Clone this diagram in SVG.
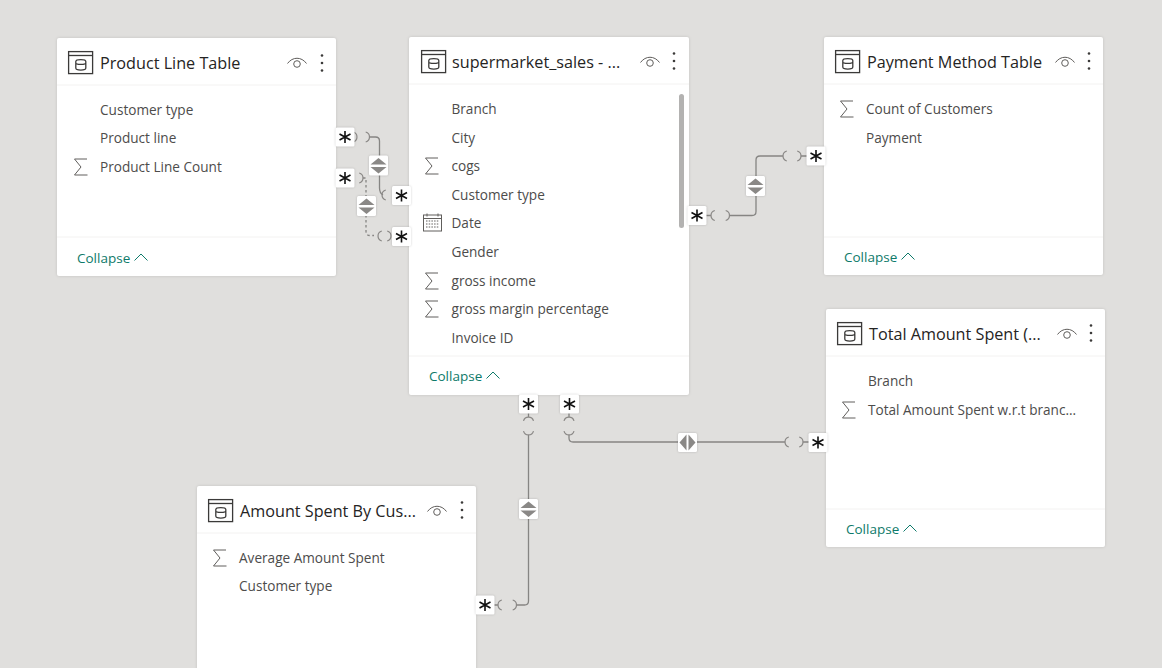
<svg xmlns="http://www.w3.org/2000/svg" width="1162" height="668" viewBox="0 0 1162 668">
<style>
text{font-family:"Open Sans","Noto Sans","Liberation Sans",sans-serif}
.t{font-size:16.2px;fill:#252423}
.f{font-size:13.6px;fill:#4d4c4b}
.c{font-size:13.5px;fill:#0e7a6a}
.card{fill:#fff;filter:drop-shadow(0 0 1.5px rgba(0,0,0,.13))}
.sep{stroke:#f3f2f1;stroke-width:1;fill:none}
.ic{fill:none;stroke:#3b3a39;stroke-width:1.3}
.sg{fill:none;stroke:#605e5c;stroke-width:1}
.ln{fill:none;stroke:#868583;stroke-width:1.3}
.d{stroke-dasharray:2.5 2.5}
.arc{fill:none;stroke:#8a8886;stroke-width:1.2}
.bd{fill:#fff;filter:drop-shadow(0 0 1px rgba(0,0,0,.18))}
.ar{fill:#8a8886}
.st{stroke:#111;stroke-width:1.6;fill:none}
</style>
<defs>
<g id="tbl"><rect x="0.6" y="0.6" width="24" height="22" class="ic"/><path d="M0.6 4.500H24.600" class="ic"/><path d="M7.800 10.500c0-2.400 10-2.400 10 0V17c0 2.800-10 2.800-10 0zM7.800 12c0 1.800 10 1.800 10 0" class="ic"/></g>
<g id="eye"><path d="M-9.500 1.500C-4.500 -5.500 4.500 -5.500 9.500 1.500" class="sg"/><circle cx="0" cy="2" r="3.300" class="sg"/></g>
<g id="dots" fill="#3b3a39"><circle cx="0" cy="-7.500" r="1.300"/><circle cx="0" cy="0" r="1.300"/><circle cx="0" cy="7.500" r="1.300"/></g>
<path id="sig" d="M-6.500 -8H6M-6.500 -8L0 0L-6.500 8H6.500" class="sg"/>
<g id="cal" class="sg"><rect x="-9" y="-8" width="18" height="16"/><path d="M-9 -4.500H9M-5.500 -9.500V-6.500M5.500 -9.500V-6.500"/><path d="M-6.500 -2H6.500M-6.500 1H6.500M-6.500 4H6.500" stroke-dasharray="1.500 1.200"/></g>
<g id="star"><rect x="-9.500" y="-9.500" width="19" height="19" rx="1.500" class="bd"/><path d="M0 -6V6M-5.500 -3L5.500 3M-5.500 3L5.500 -3" class="st"/></g>
<g id="updn"><rect x="-9.500" y="-10" width="19" height="20" rx="1.500" class="bd"/><path d="M0 -7.500L8 -1H-8ZM0 8L8 1.500H-8Z" class="ar"/></g>
<g id="lr"><rect x="-9.500" y="-9.500" width="19" height="19" rx="1.500" class="bd"/><path d="M-1 -8V8L-8 0ZM1 -8V8L8 0Z" class="ar"/></g>
<path id="chev" d="M-6.500 3.500L0 -3L6.500 3.500" fill="none" stroke="#0e7a6a" stroke-width="1"/>
<path id="lp" d="M3.800 -5A5.200 5.200 0 0 0 3.800 5"/>
<path id="rp" d="M-3.800 -5A5.200 5.200 0 0 1 -3.800 5"/>
<path id="tp" d="M-5 3.800A5.200 5.200 0 0 1 5 3.800"/>
<path id="bp" d="M-5 -3.800A5.200 5.200 0 0 0 5 -3.800"/>
</defs>
<rect width="1162" height="668" fill="#e0dfdd"/>

<g id="connectors">
<path class="ln" d="M369.500 137H375.500Q379.500 137 379.500 141V188Q379.500 193 383 195"/>
<path class="ln d" d="M363 178H366V231Q366 235.500 370 235.500H374"/>
<path class="ln" d="M706 215.500H711M729.500 215.500H752Q756 215.500 756 211.500V160Q756 156 760 156H783M801 156H807"/>
<path class="ln" d="M528.500 413V417M528.500 435V601Q528.500 605 524.500 605H516.500M498 605H494"/>
<path class="ln" d="M569 413V417M569 435V438Q569 442 573 442H785M803 442H809"/>
<g class="arc">
<use href="#rp" x="357" y="137"/><use href="#rp" x="369.500" y="137"/>
<use href="#lp" x="382" y="195"/>
<use href="#rp" x="363" y="178"/>
<use href="#lp" x="378" y="236"/><use href="#rp" x="391" y="236"/>
<use href="#lp" x="711" y="215.500"/><use href="#rp" x="729.500" y="215.500"/>
<use href="#lp" x="783" y="156"/><use href="#rp" x="801" y="156"/>
<use href="#tp" x="528.500" y="417"/><use href="#bp" x="528.500" y="435"/>
<use href="#tp" x="569" y="417"/><use href="#bp" x="569" y="435"/>
<use href="#lp" x="785" y="442"/><use href="#rp" x="803" y="442"/>
<use href="#lp" x="498" y="605"/><use href="#rp" x="516.500" y="605"/>
</g>
<use href="#updn" x="378.500" y="165.500"/>
<use href="#updn" x="366.500" y="206"/>
<use href="#updn" x="755.500" y="186"/>
<use href="#updn" x="528.500" y="509"/>
<use href="#lr" x="687.500" y="442.500"/>
</g>

<g id="product-line-table">
<rect class="card" x="57" y="38" width="279" height="238" rx="2"/>
<path class="sep" d="M57 85H336M57 237H336"/>
<use href="#tbl" x="68" y="51"/>
<text class="t" x="100" y="68.500">Product Line Table</text>
<use href="#eye" x="297" y="62"/><use href="#dots" x="322" y="63"/>
<text class="f" x="100" y="115">Customer type</text>
<text class="f" x="100" y="143">Product line</text>
<use href="#sig" x="81" y="167"/><text class="f" x="100" y="172">Product Line Count</text>
<text class="c" x="77" y="263">Collapse</text><use href="#chev" x="141" y="257"/>
</g>

<g id="supermarket-sales">
<rect class="card" x="409" y="37" width="280" height="358" rx="2"/>
<path class="sep" d="M409 84H689M409 356H689"/>
<use href="#tbl" x="421" y="50"/>
<text class="t" x="452" y="67.500">supermarket_sales - ...</text>
<use href="#eye" x="650" y="61"/><use href="#dots" x="674" y="61"/>
<text class="f" x="451.500" y="114">Branch</text>
<text class="f" x="451.500" y="143">City</text>
<use href="#sig" x="432" y="166"/><text class="f" x="451.500" y="171">cogs</text>
<text class="f" x="451.500" y="200">Customer type</text>
<use href="#cal" x="432.500" y="223"/><text class="f" x="451.500" y="228">Date</text>
<text class="f" x="451.500" y="257">Gender</text>
<use href="#sig" x="432" y="281"/><text class="f" x="451.500" y="286">gross income</text>
<use href="#sig" x="432" y="309"/><text class="f" x="451.500" y="314">gross margin percentage</text>
<text class="f" x="451.500" y="343">Invoice ID</text>
<rect x="679" y="94" width="5" height="134" rx="2.500" fill="#b3b2b1"/>
<text class="c" x="429" y="381">Collapse</text><use href="#chev" x="493" y="375"/>
</g>

<g id="payment-method-table">
<rect class="card" x="824" y="37" width="279" height="238" rx="2"/>
<path class="sep" d="M824 84H1103M824 237H1103"/>
<use href="#tbl" x="835" y="50"/>
<text class="t" x="867" y="67.500">Payment Method Table</text>
<use href="#eye" x="1065" y="61"/><use href="#dots" x="1089" y="61"/>
<use href="#sig" x="847" y="109"/><text class="f" x="866" y="114">Count of Customers</text>
<text class="f" x="866" y="143">Payment</text>
<text class="c" x="844" y="262">Collapse</text><use href="#chev" x="908" y="256"/>
</g>

<g id="total-amount-spent">
<rect class="card" x="826" y="309" width="279" height="238" rx="2"/>
<path class="sep" d="M826 356H1105M826 509H1105"/>
<use href="#tbl" x="837" y="322"/>
<text class="t" x="869" y="339.500">Total Amount Spent (...</text>
<use href="#eye" x="1067" y="333"/><use href="#dots" x="1091" y="333"/>
<text class="f" x="868" y="386">Branch</text>
<use href="#sig" x="849" y="410"/><text class="f" x="868" y="415">Total Amount Spent w.r.t branc...</text>
<text class="c" x="846" y="534">Collapse</text><use href="#chev" x="910" y="528"/>
</g>

<g id="amount-spent-by-customer">
<rect class="card" x="197" y="486" width="279" height="190" rx="2"/>
<path class="sep" d="M197 533H476"/>
<use href="#tbl" x="208" y="499"/>
<text class="t" x="240" y="516.500">Amount Spent By Cus...</text>
<use href="#eye" x="437" y="510"/><use href="#dots" x="462" y="510"/>
<use href="#sig" x="220" y="558"/><text class="f" x="239" y="563">Average Amount Spent</text>
<text class="f" x="239" y="591">Customer type</text>
</g>

<g id="cardinality">
<use href="#star" x="345" y="137"/>
<use href="#star" x="345" y="178"/>
<use href="#star" x="401.500" y="195.500"/>
<use href="#star" x="401.500" y="236.500"/>
<use href="#star" x="697" y="215.500"/>
<use href="#star" x="816" y="156"/>
<use href="#star" x="528.500" y="404"/>
<use href="#star" x="569.500" y="404"/>
<use href="#star" x="818" y="442.500"/>
<use href="#star" x="485" y="605"/>
</g>
</svg>
